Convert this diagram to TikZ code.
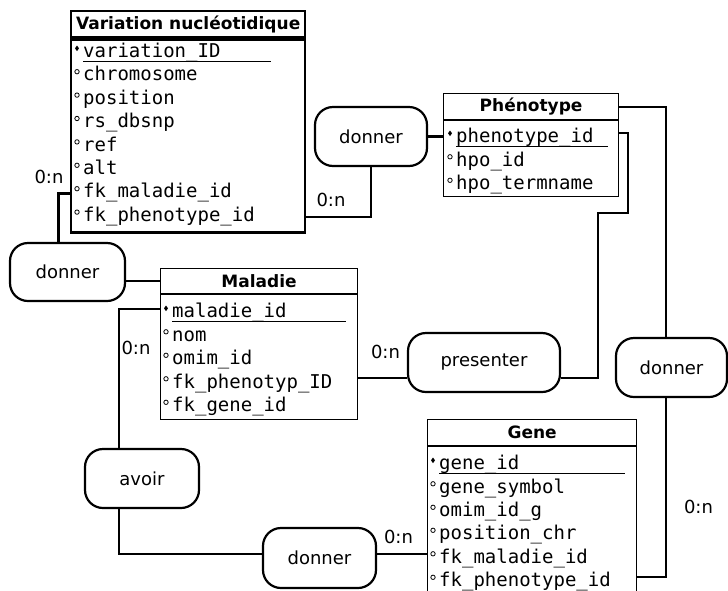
\documentclass[tikz,border=0pt]{standalone}
\usepackage{fontspec}
\setmainfont{DejaVu Sans}
\setmonofont{DejaVu Sans Mono}
\usetikzlibrary{positioning}

\begin{document}
\begin{tikzpicture}[x=1pt, y=-1pt,
  tablehead/.style={draw=black, line width=1.2pt, anchor=north west, inner sep=0, minimum height=26, font=\bfseries\fontsize{17}{20}\selectfont},
  tablebody/.style={draw=black, line width=1.2pt, anchor=north west, inner sep=0},
  attr/.style={anchor=west, inner sep=0, text height=13pt, text depth=4pt, font=\ttfamily\fontsize{19}{22}\selectfont},
  attrmark/.style={line width=0.8pt},
  keyline/.style={line width=1pt},
  rel/.style={draw=black, line width=2.2pt, rounded corners=18pt, inner sep=0, font=\fontsize{18}{21}\selectfont},
  card/.style={inner sep=0, font=\fontsize{18}{21}\selectfont},
  link/.style={line width=2.2pt}]

\useasboundingbox (0,0) rectangle (728,590);
\clip (0,0) rectangle (728,590);

% ENTITIES
\node[tablehead, line width=2.4pt, minimum width=234] (varHead) at (70,10) {Variation nucléotidique};
\node[tablebody, line width=2.4pt, minimum width=234, minimum height=193] (varBody) at (varHead.south west) {};
\node[attr] (varId) at (83,53) {variation\_ID};
\node[attr] (varChrom) at (83,76.4) {chromosome};
\node[attr] (varPos) at (83,99.8) {position};
\node[attr] (varRs) at (83,123.2) {rs\_dbsnp};
\node[attr] (varRef) at (83,146.6) {ref};
\node[attr] (varAlt) at (83,170) {alt};
\node[attr] (varFkMal) at (83,193.4) {fk\_maladie\_id};
\node[attr] (varFkPhe) at (83,216.8) {fk\_phenotype\_id};

\node[tablehead, minimum width=175] (pheHead) at (443,93) {Phénotype};
\node[tablebody, minimum width=175, minimum height=76] (pheBody) at (pheHead.south west) {};
\node[attr] (pheId) at (456,138) {phenotype\_id};
\node[attr] (pheHpo) at (456,161.5) {hpo\_id};
\node[attr] (pheTerm) at (456,185) {hpo\_termname};

\node[tablehead, minimum width=197, minimum height=25] (malHead) at (160,268) {Maladie};
\node[tablebody, minimum width=197, minimum height=125] (malBody) at (malHead.south west) {};
\node[attr] (malId) at (172,313) {maladie\_id};
\node[attr] (malNom) at (172,336.5) {nom};
\node[attr] (malOmim) at (172,360) {omim\_id};
\node[attr] (malFkPhe) at (172,383.5) {fk\_phenotyp\_ID};
\node[attr] (malFkGene) at (172,407) {fk\_gene\_id};

\node[tablehead, minimum width=209] (geneHead) at (427,419) {Gene};
\node[tablebody, minimum width=209, minimum height=160] (geneBody) at (geneHead.south west) {};
\node[attr] (geneId) at (439,465) {gene\_id};
\node[attr] (geneSym) at (439,488.5) {gene\_symbol};
\node[attr] (geneOmim) at (439,512) {omim\_id\_g};
\node[attr] (genePos) at (439,535) {position\_chr};
\node[attr] (geneFkMal) at (439,558.5) {fk\_maladie\_id};
\node[attr] (geneFkPhe) at (439,582) {fk\_phenotype\_id};

% KEYS AND ATTRIBUTE MARKS
\foreach \r/\b/\s in {varId/varBody/35, pheId/pheBody/11, malId/malBody/12, geneId/geneBody/12} {
  \fill ([xshift=-6pt,yshift=-4pt]\r.north west) +(-2,0) -- +(0,-2.8) -- +(2,0) -- +(0,2.8) -- cycle;
  \draw[keyline, shorten >=\s pt] ([yshift=-4pt]\r.base west) -- ([yshift=-4pt]\r.base west -| \b.east);
}
\foreach \r in {varChrom, varPos, varRs, varRef, varAlt, varFkMal, varFkPhe, pheHpo, pheTerm, malNom, malOmim, malFkPhe, malFkGene, geneSym, geneOmim, genePos, geneFkMal, geneFkPhe}
  \draw[attrmark] ([xshift=-6pt,yshift=-4pt]\r.north west) circle (2.2pt);

% RELATIONS
\node[rel, minimum width=112, minimum height=59] (donTop) at (371,136.5) {donner};
\node[rel, minimum width=115, minimum height=58] (donLeft) at (67.5,272) {donner};
\node[rel, minimum width=152, minimum height=59] (presenter) at (484,362.5) {presenter};
\node[rel, minimum width=111, minimum height=59] (donRight) at (671.5,367.5) {donner};
\node[rel, minimum width=114, minimum height=59] (avoir) at (142,478.5) {avoir};
\node[rel, minimum width=113, minimum height=60] (donBot) at (319.5,558) {donner};

% CARDINALITIES
\node[card] (cardVarPhe) at (331,200) {0:n};
\node[card] (cardVarMal) at (49,177) {0:n};
\node[card] (cardMalAvoir) at (136,348) {0:n};
\node[card] (cardGeneMal) at (398.5,537) {0:n};
\node[card] (cardMalPhe) at (385.5,352) {0:n};
\node[card] (cardGenePhe) at (698.5,507) {0:n};

% LINKS
\coordinate (pheBendA) at (598,213);
\coordinate (pheBendB) at (628,133);

\draw[link] (varFkPhe -| varBody.east) -| (donTop.south);
\draw[link] (donTop.east) -- (donTop.east -| pheBody.west);
\draw[link] (varFkMal -| varBody.west) -| ([xshift=-9pt]donLeft.north);
\draw[link] (donLeft.east |- malHead) -- (malHead.west);
\draw[link] ([yshift=4pt]malId.west -| malBody.west) -| ([xshift=-23pt]avoir.north);
\draw[link] ([xshift=-23pt]avoir.south) |- ([yshift=4pt]donBot.west);
\draw[link] ([yshift=4pt]donBot.east) -- ([yshift=4pt]donBot.east -| geneBody.west);
\draw[link] ([yshift=-15.5pt]presenter.west -| malBody.east) -- ([yshift=-15.5pt]presenter.west);
\draw[link] ([yshift=-15.5pt]presenter.east) -| (pheBendA) -| (pheBendB) -- (pheBendB -| pheBody.east);
\draw[link] (pheHead.east) -| ([xshift=-5.5pt]donRight.north);
\draw[link] ([xshift=-5.5pt]donRight.south) |- ([yshift=5pt]geneFkPhe.west -| geneBody.east);

\end{tikzpicture}
\end{document}
